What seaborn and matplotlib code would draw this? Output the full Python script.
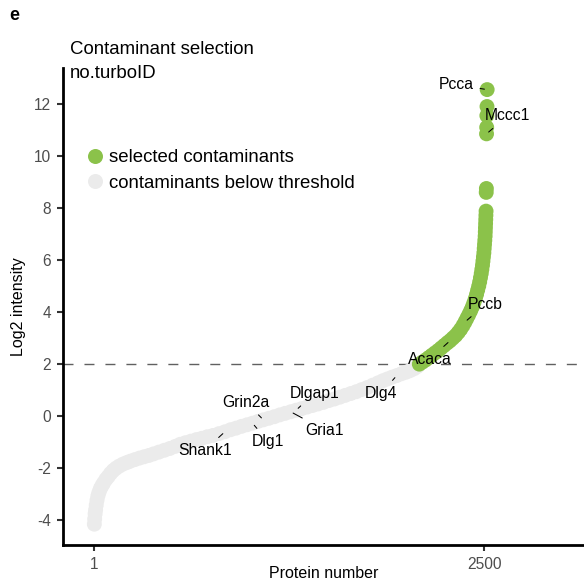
import numpy as np
import pandas as pd
import matplotlib
matplotlib.use("Agg")
import matplotlib.pyplot as plt
from matplotlib.lines import Line2D
import seaborn as sns

# ---------------- data ----------------
gray_rank = [1, 3, 6, 9, 13, 18, 24, 31, 40, 50, 60, 75, 90, 105, 122, 140, 160,
             185, 210, 231, 260, 290, 320, 350, 380, 415, 450, 485, 520, 551, 585,
             620, 655, 690, 725, 762, 800, 838, 875, 910, 945, 980, 1015, 1050,
             1085, 1120, 1155, 1190, 1225, 1260, 1295, 1330, 1365, 1400, 1435,
             1470, 1505, 1540, 1575, 1610, 1645, 1680, 1715, 1750, 1785, 1820,
             1850, 1880, 1910, 1940, 1970, 2000, 2025, 2050, 2070, 2080]
gray_value = [-4.15, -3.95, -3.75, -3.60, -3.42, -3.23, -3.06, -2.92, -2.78, -2.67,
              -2.57, -2.43, -2.32, -2.20, -2.09, -2.00, -1.92, -1.84, -1.78, -1.73,
              -1.67, -1.61, -1.56, -1.51, -1.45, -1.38, -1.31, -1.24, -1.16, -1.08,
              -1.02, -0.96, -0.90, -0.85, -0.79, -0.74, -0.67, -0.60, -0.52, -0.46,
              -0.39, -0.33, -0.27, -0.20, -0.14, -0.08, -0.02, 0.05, 0.11, 0.17,
              0.23, 0.29, 0.35, 0.41, 0.47, 0.53, 0.60, 0.66, 0.73, 0.80, 0.87,
              0.94, 1.02, 1.10, 1.19, 1.28, 1.36, 1.43, 1.50, 1.56, 1.63, 1.69,
              1.75, 1.82, 1.90, 1.96]

green_rank = [2085, 2105, 2125, 2145, 2165, 2185, 2205, 2225, 2245, 2265, 2282,
              2300, 2318, 2335, 2350, 2365, 2378, 2390, 2402, 2414, 2425, 2435,
              2444, 2452, 2459, 2466, 2472, 2477, 2482, 2486, 2490, 2493, 2496,
              2499, 2501, 2503, 2505, 2507, 2508, 2509, 2510, 2511, 2512, 2513,
              2514, 2515, 2516, 2517, 2518, 2519, 2520]
green_value = [2.00, 2.08, 2.16, 2.25, 2.34, 2.43, 2.52, 2.62, 2.72, 2.82, 2.90,
               3.00, 3.10, 3.22, 3.34, 3.48, 3.62, 3.76, 3.90, 4.05, 4.20, 4.36,
               4.52, 4.68, 4.84, 5.00, 5.16, 5.32, 5.48, 5.64, 5.80, 5.96, 6.12,
               6.28, 6.44, 6.60, 6.76, 6.92, 7.08, 7.24, 7.40, 7.56, 7.72, 7.88,
               8.60, 8.75, 10.85, 11.10, 11.55, 11.90, 12.55]

label_names = ["Shank1", "Dlg1", "Grin2a", "Gria1", "Dlgap1", "Dlg4",
               "Acaca", "Pccb", "Mccc1", "Pcca"]
label_ranks = [838, 1015, 1085, 1260, 1295, 1940, 2282, 2378, 2516, 2520]

threshold = 2
x_ticks = [1, 2500]
y_ticks = [-4, -2, 0, 2, 4, 6, 8, 10, 12]
group_names = ["selected contaminants", "contaminants below threshold"]
title_lines = ["Contaminant selection", "no.turboID"]
panel_letter = "e"

# ---------------- styling / layout ----------------
label_offsets = [(-14.4, -13.2), (11.1, -13.0), (-12.7, 12.7), (24.5, -13.2),
                 (13.0, 12.2), (-11.1, -12.7), (-14.6, -13.2), (14.8, 12.9),
                 (15.1, 12.9), (-22.0, 3.4)]
GREEN = "#8BC24A"
GRAY = "#EBEBEB"

sns.set_style("ticks")
plt.rcParams["font.family"] = ["Liberation Sans", "DejaVu Sans"]
plt.rcParams["text.color"] = "black"
plt.rcParams["axes.labelcolor"] = "black"

df = pd.DataFrame({
    "rank": gray_rank + green_rank,
    "value": gray_value + green_value,
    "group": [group_names[1]] * len(gray_rank) + [group_names[0]] * len(green_rank),
})
lookup = dict(zip(df["rank"], df["value"]))

fig = plt.figure(figsize=(5.84, 5.83), dpi=100)
ax = fig.add_axes([63 / 584, 38 / 583, 521 / 584, 477 / 583])

ax.axhline(threshold, color="#606060", lw=1.0, ls=(0, (7.2, 7.9)), zorder=1)

sns.scatterplot(data=df, x="rank", y="value", hue="group",
                palette={group_names[0]: GREEN, group_names[1]: GRAY},
                hue_order=group_names, s=115, linewidth=0, edgecolor="none",
                legend=False, ax=ax, zorder=3)

for name, r, off in zip(label_names, label_ranks, label_offsets):
    ax.annotate(name, xy=(r, lookup[r]), xytext=off, textcoords="offset points",
                ha="center", va="center", fontsize=11.3, color="black", zorder=5,
                arrowprops=dict(arrowstyle="-", color="black", lw=0.75,
                                shrinkA=2, shrinkB=2))

ax.set_xlim(-200, 3141)
ax.set_ylim(-4.95, 13.38)
ax.set_xticks(x_ticks)
ax.set_xticklabels([str(t) for t in x_ticks])
ax.set_yticks(y_ticks)
ax.set_yticklabels([str(t) for t in y_ticks])

for s in ["top", "right"]:
    ax.spines[s].set_visible(False)
for s in ["left", "bottom"]:
    ax.spines[s].set_linewidth(2.0)
    ax.spines[s].set_color("black")
ax.tick_params(axis="both", length=4, width=1.5, color="#333333",
               labelcolor="#4D4D4D", labelsize=11.2, pad=4.5)

ax.set_xlabel("Protein number", fontsize=11.5, color="black")
ax.xaxis.set_label_coords(0.5, -0.044)
ax.set_ylabel("Log2 intensity", fontsize=11.5, color="black", labelpad=6)

handles = [Line2D([], [], marker="o", ls="", ms=10.8, color=GREEN, mec="none"),
           Line2D([], [], marker="o", ls="", ms=10.8, color=GRAY, mec="none")]
ax.legend(handles, group_names, loc="upper left", bbox_to_anchor=(0.047, 0.830),
          frameon=False, fontsize=13.4, handlelength=0.8, handletextpad=0.35,
          borderpad=0, borderaxespad=0, labelspacing=0.46, labelcolor="black")

fig.text(70 / 584, 1 - 54.3 / 583, title_lines[0], fontsize=13.4, ha="left",
         va="baseline", color="black")
fig.text(70 / 584, 1 - 77.5 / 583, title_lines[1], fontsize=13.4, ha="left",
         va="baseline", color="black")
fig.text(9.3 / 584, 1 - 20 / 583, panel_letter, fontsize=13, fontweight="bold",
         ha="left", va="baseline", color="black")

fig.savefig("out.png", dpi=100)
